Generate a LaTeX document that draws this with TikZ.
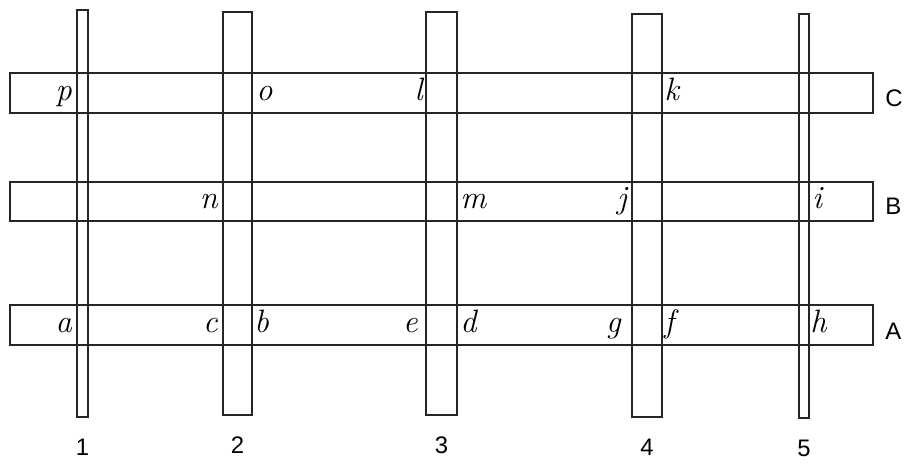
\documentclass[tikz,border=0pt]{standalone}
\usepackage{fontspec}
\newfontfamily\stripfont{Liberation Sans}
\usetikzlibrary{positioning, calc}
\newcommand{\pxl}{0.025cm}

\begin{document}
\begin{tikzpicture}[
        x=\pxl, y=-\pxl,
        % Style for the paper strips (plain outlines)
        strip/.style={
            rectangle, draw=black!85, line width=1.2pt,
            inner sep=0pt, outer sep=0pt
        },
        hstrip/.style={strip, minimum width=863*\pxl, minimum height=40*\pxl},
        % Style for the letters at the crossings
        cross/.style={font=\fontsize{23}{25}\selectfont\itshape, inner sep=0pt},
        % Style for the strip numbers and row letters
        stripname/.style={font=\fontsize{17}{19}\selectfont\stripfont, inner sep=0pt}
    ]
        \useasboundingbox (0,0) rectangle (904,464);

        % 1. Horizontal strips
        \node[hstrip] (hC) at (441.5,93) {};
        \node[hstrip, minimum height=39*\pxl] (hB) at (441.5,201.5) {};
        \node[hstrip] (hA) at (441.5,325) {};

        % 2. Vertical strips
        \node[strip, minimum width=11*\pxl, minimum height=407*\pxl] (v1) at (82.5,213.5) {};
        \node[strip, minimum width=29*\pxl, minimum height=403*\pxl] (v2) at (237.5,213.5) {};
        \node[strip, minimum width=31*\pxl, minimum height=403*\pxl] (v3) at (441.5,213.5) {};
        \node[strip, minimum width=30*\pxl, minimum height=403*\pxl] (v4) at (647,215.5) {};
        \node[strip, minimum width=10*\pxl, minimum height=404*\pxl] (v5) at (804,216) {};

        % 3. Row letters and strip numbers
        \node[stripname, anchor=west] (rowC) at ($(hC.east)+(12,5)$) {C};
        \node[stripname, anchor=west] (rowB) at ($(hB.east)+(12,5)$) {B};
        \node[stripname, anchor=west] (rowA) at ($(hA.east)+(12,6)$) {A};
        \foreach \n in {1,...,5}
            \node[stripname] (num\n) at ($(v\n.south)+(0,30)$) {\n};

        % 4. Letters at the crossings
        % Row C
        \node[cross, anchor=mid east] (p) at ($(v1.west |- hC.center)+(-5,4)$) {p};
        \node[cross, anchor=mid west] (o) at ($(v2.east |- hC.center)+(4,4)$) {o};
        \node[cross, anchor=mid east] (l) at ($(v3.west |- hC.center)+(-3,4)$) {l};
        \node[cross, anchor=mid west] (k) at ($(v4.east |- hC.center)+(2,4)$) {k};
        % Row B
        \node[cross, anchor=mid east] (n) at ($(v2.west |- hB.center)+(-5,4)$) {n};
        \node[cross, anchor=mid west] (m) at ($(v3.east |- hB.center)+(3,4)$) {m};
        \node[cross, anchor=mid east] (j) at ($(v4.west |- hB.center)+(-5,4)$) {j};
        \node[cross, anchor=mid west] (i) at ($(v5.east |- hB.center)+(3,4)$) {i};
        % Row A
        \node[cross, anchor=mid east] (a) at ($(v1.west |- hA.center)+(-5,4)$) {a};
        \node[cross, anchor=mid east] (c) at ($(v2.west |- hA.center)+(-5,4)$) {c};
        \node[cross, anchor=mid west] (b) at ($(v2.east |- hA.center)+(2,4)$) {b};
        \node[cross, anchor=mid east] (e) at ($(v3.west |- hA.center)+(-8,4)$) {e};
        \node[cross, anchor=mid west] (d) at ($(v3.east |- hA.center)+(3,4)$) {d};
        \node[cross, anchor=mid east] (g) at ($(v4.west |- hA.center)+(-11,4)$) {g};
        \node[cross, anchor=mid west] (f) at ($(v4.east |- hA.center)+(2,4)$) {f};
        \node[cross, anchor=mid west] (h) at ($(v5.east |- hA.center)+(1,4)$) {h};

    \end{tikzpicture}
\end{document}
